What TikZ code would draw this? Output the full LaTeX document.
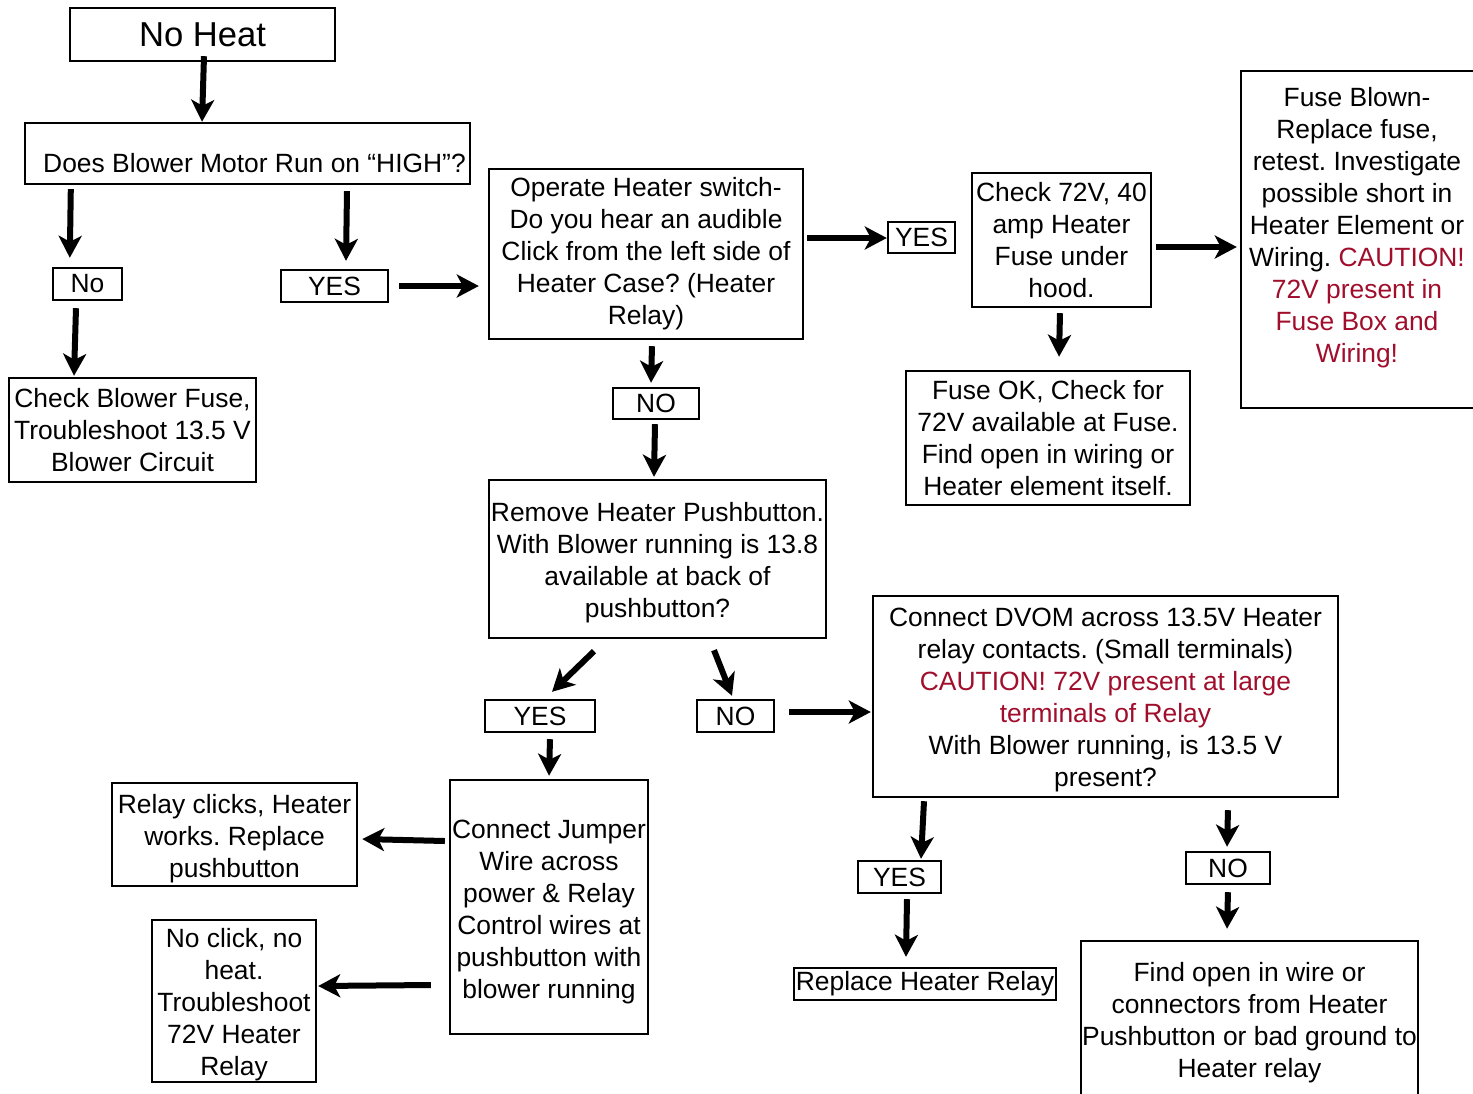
\documentclass[tikz,border=0pt]{standalone}
\usepackage{fontspec}
\setmainfont{Liberation Sans}
\usetikzlibrary{arrows.meta}
\definecolor{caution}{RGB}{160,14,44}
\frenchspacing

\begin{document}
\begin{tikzpicture}[x=0.5pt, y=-0.5pt]

  \tikzstyle{plain} = [inner sep=0pt, align=center, font=\fontsize{13.2}{16}\selectfont];
  \tikzstyle{box} = [plain, rectangle, draw=black, line width=1.2pt];
  \tikzstyle{tag} = [box, minimum height=16pt];
  \tikzstyle{flow} = [line width=3pt, -{Stealth[length=11pt, width=11.5pt, inset=3pt]}];

  \useasboundingbox (0,0) rectangle (1473,1093);

  % first question
  \node [box, minimum width=132.5pt, minimum height=26.5pt, font=\fontsize{17.3}{20}\selectfont] (noheat) at (202.5,34.5) {No Heat};
  \node [box, minimum width=222.5pt, minimum height=30.5pt] (blower) at (247.5,153.5) {};
  \node [plain, anchor=base] (blowertext) at (254.5,172.5) {Does Blower Motor Run on “HIGH”?};

  \node [tag, minimum width=34.5pt] (no)   at (87.5,284) {No};
  \node [tag, minimum width=53.5pt] (yes)  at (334.5,286) {YES};
  \node [box, minimum width=123.5pt, minimum height=52pt] (blowerfuse) at (132.5,430)
    {Check Blower Fuse,\\Troubleshoot 13.5 V\\Blower Circuit};

  % relay click
  \node [box, minimum width=157pt, minimum height=85pt] (operate) at (646,254)
    {Operate Heater switch-\\Do you hear an audible\\Click from the left side of\\Heater Case? (Heater\\Relay)};
  \node [tag, minimum width=33.5pt, minimum height=15.5pt] (clickyes) at (921.5,237.5) {YES};
  \node [box, minimum width=89.5pt, minimum height=67pt] (check72) at (1061.5,240)
    {Check 72V, 40\\amp Heater\\Fuse under\\hood.};
  \node [box, minimum width=117pt, minimum height=168.5pt] (blown) at (1358,239.5) {};
  \node [plain] (blowntext) at (1357,228)
    {Fuse Blown-\\Replace fuse,\\retest. Investigate\\possible short in\\Heater Element or\\Wiring. \textcolor{caution}{CAUTION!}\\
     \textcolor{caution}{72V present in}\\\textcolor{caution}{Fuse Box and}\\\textcolor{caution}{Wiring!}};
  \node [box, minimum width=142pt, minimum height=67pt] (fuseok) at (1048,438)
    {Fuse OK, Check for\\72V available at Fuse.\\Find open in wiring or\\Heater element itself.};

  % no click
  \node [tag, minimum width=43pt, minimum height=15.5pt] (clickno) at (656,403.5) {NO};
  \node [box, minimum width=168.5pt, minimum height=79pt] (remove) at (657.5,559) {};
  \node [plain] (removetext) at ([shift={(0,4)}]remove.center)
    {Remove Heater Pushbutton.\\With Blower running is 13.8\\available at back of\\pushbutton?};
  \node [tag, minimum width=55pt]   (pushyes) at (540,716) {YES};
  \node [tag, minimum width=38.5pt] (pushno)  at (735.5,716) {NO};

  \node [box, minimum width=99pt, minimum height=127pt] (jumper) at (549,907) {};
  \node [plain] (jumpertext) at ([shift={(0,5)}]jumper.center)
    {Connect Jumper\\Wire across\\power \& Relay\\Control wires at\\pushbutton with\\blower running};
  \node [box, minimum width=122.5pt, minimum height=51.5pt] (clicks) at (234.5,834.5) {};
  \node [plain] (clickstext) at ([shift={(0,4)}]clicks.center)
    {Relay clicks, Heater\\works. Replace\\pushbutton};
  \node [box, minimum width=82pt, minimum height=81pt] (noclick) at (234,1001) {};
  \node [plain] (noclicktext) at ([shift={(0,4)}]noclick.center)
    {No click, no\\heat.\\Troubleshoot\\72V Heater\\Relay};

  \node [box, minimum width=232.5pt, minimum height=100.5pt] (dvom) at (1105.5,696.5) {};
  \node [plain] (dvomtext) at ([shift={(0,4)}]dvom.center)
    {Connect DVOM across 13.5V Heater\\relay contacts. (Small terminals)\\
     \textcolor{caution}{CAUTION! 72V present at large}\\\textcolor{caution}{terminals of Relay}\\
     With Blower running, is 13.5 V\\present?};
  \node [tag, minimum width=41.5pt] (dvomyes) at (899.5,877) {YES};
  \node [tag, minimum width=42pt]   (dvomno)  at (1228,868) {NO};
  \node [tag, minimum width=131pt]  (replace) at (925,984) {Replace Heater Relay};
  \node [box, minimum width=168.5pt, minimum height=79pt] (findopen) at (1249.5,1020) {};
  \node [plain] (findopentext) at ([shift={(0,3)}]findopen.center)
    {Find open in wire or\\connectors from Heater\\Pushbutton or bad ground to\\Heater relay};

  \draw [flow] ([shift={(1.5,-6)}]noheat.south) -- ([shift={(-45.5,0)}]blower.north);
  \draw [flow] ([shift={(47,4)}]blower.south west) -- ([shift={(18,-9)}]no.north west);
  \draw [flow] ([shift={(99.5,6)}]blower.south) -- ([shift={(11.5,-8)}]yes.north);
  \draw [flow] ([shift={(-11.5,7)}]no.south) -- ([shift={(-58.5,-1)}]blowerfuse.north);
  \draw [flow] ([shift={(10,0)}]yes.east) -- ([shift={(-9,32)}]operate.west);

  \draw [flow] ([shift={(3,-16)}]operate.east) -- ([shift={(0,0.5)}]clickyes.west);
  \draw [flow] ([shift={(4,7)}]check72.east) -- ([shift={(-3,7.5)}]blown.west);
  \draw [flow] ([shift={(-1.5,5)}]check72.south) -- ([shift={(11,-13)}]fuseok.north);

  \draw [flow] ([shift={(6,6)}]operate.south) -- ([shift={(-5,-4)}]clickno.north);
  \draw [flow] ([shift={(-1,4)}]clickno.south) -- ([shift={(-3.5,-2)}]remove.north);
  \draw [flow] ([shift={(-63.5,12)}]remove.south) -- ([shift={(12,-7)}]pushyes.north);
  \draw [flow] ([shift={(56.5,11)}]remove.south) -- ([shift={(-3.5,-3)}]pushno.north);
  \draw [flow] ([shift={(14,-4)}]pushno.east) -- ([shift={(-1,15.5)}]dvom.west);

  \draw [flow] ([shift={(10,6)}]pushyes.south) -- ([shift={(0,-3)}]jumper.north);
  \draw [flow] ([shift={(-4,-66)}]jumper.west) -- ([shift={(4,4.5)}]clicks.east);
  \draw [flow] ([shift={(-18,78)}]jumper.west) -- ([shift={(1,-15)}]noclick.east);

  \draw [flow] ([shift={(-181.5,3)}]dvom.south) -- ([shift={(21.5,-1)}]dvomyes.north);
  \draw [flow] ([shift={(7.5,5)}]dvomyes.south) -- ([shift={(-19,-10)}]replace.north);
  \draw [flow] ([shift={(122.5,12)}]dvom.south) -- ([shift={(-1,-4)}]dvomno.north);
  \draw [flow] ([shift={(0,7)}]dvomno.south) -- ([shift={(-22.5,-11)}]findopen.north);

\end{tikzpicture}
\end{document}
